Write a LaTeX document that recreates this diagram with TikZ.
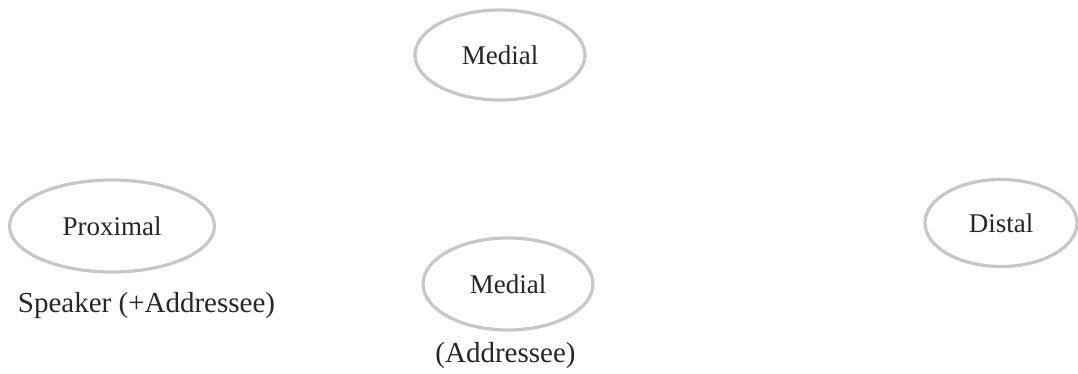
\documentclass[tikz,border=0pt]{standalone}
\usepackage{fontspec}
\setmainfont{Liberation Serif}
\usetikzlibrary{shapes.geometric}
\begin{document}
\begin{tikzpicture}[x=1pt,y=1pt,
  oval/.style={ellipse, draw=black!22, line width=3.2pt, inner sep=0pt,
               font=\fontsize{27}{31}\selectfont, text=black!85},
  caption/.style={font=\fontsize{29}{33}\selectfont, text=black!85, anchor=base}]
  \useasboundingbox (0,0) rectangle (1078,374);
  % the four deixis categories
  \node[oval, minimum width=170, minimum height=90] (medtop) at (500,319) {Medial};
  \node[oval, minimum width=205, minimum height=92] (prox) at (112,148) {Proximal};
  \node[oval, minimum width=152, minimum height=87] (dist) at (1001,151) {Distal};
  \node[oval, minimum width=170, minimum height=92] (medlow) at (508,90) {Medial};
  % reference points
  \node[caption] (spk) at (146.5,61) {Speaker (+Addressee)};
  \node[caption] (addr) at (505.5,11) {(Addressee)};
\end{tikzpicture}
\end{document}
